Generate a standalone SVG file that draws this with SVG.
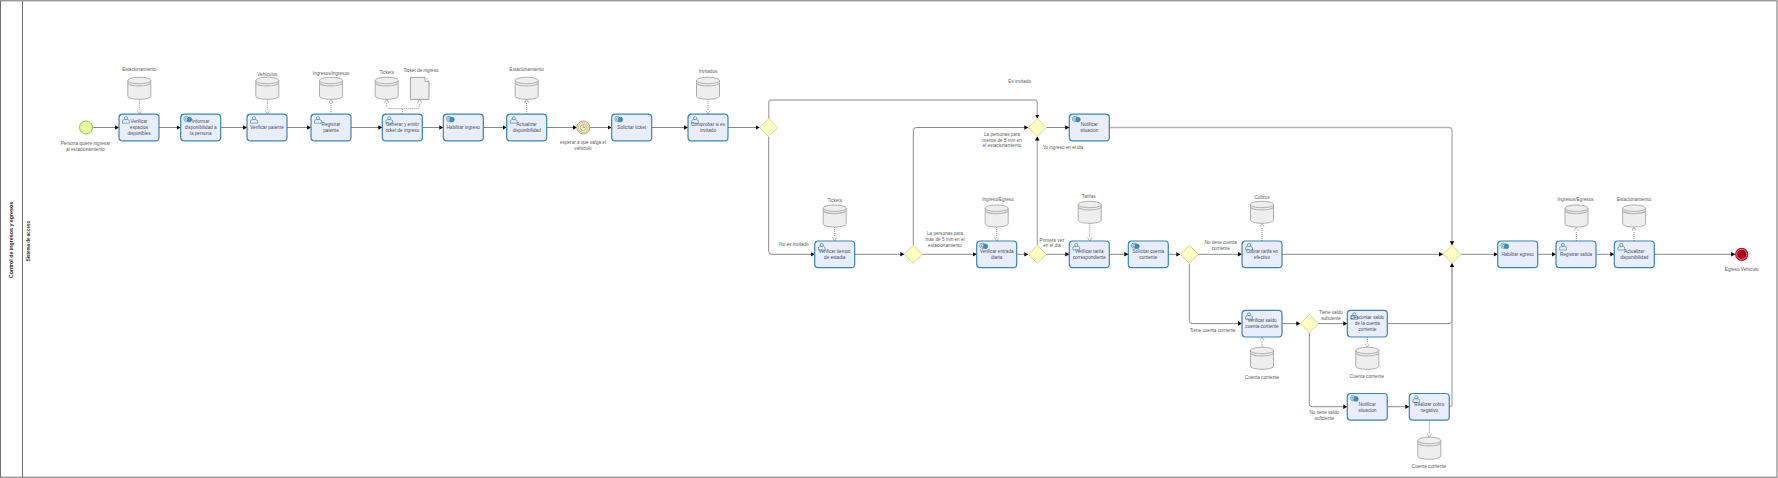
<svg xmlns="http://www.w3.org/2000/svg" width="1778" height="478" viewBox="0 0 1778 478">
<style>
text{font-family:"Liberation Sans",Arial,sans-serif;font-size:4.65px;fill:#5c5c5c;text-anchor:middle;stroke:none}
text.t{fill:#4c4c66}
.title{font-weight:bold;font-size:5.3px;fill:#222}
.sub{font-weight:bold;font-size:4.5px;fill:#333}
.box{fill:#e9eefc;stroke:#3686b6;stroke-width:1.2}
.seq{fill:none;stroke:#8a8a8a;stroke-width:1;marker-end:url(#ah)}
.seqh{fill:none;stroke:#b4b4b4;stroke-width:1.4;marker-end:url(#ah)}
.as{fill:none;stroke:#8a8a8a;stroke-width:1;stroke-dasharray:1 1;marker-end:url(#oh)}
.gw{fill:#ffffc4;stroke:#d0d08a;stroke-width:.9}
.db{fill:#eeeeee;stroke:#a6a6a6;stroke-width:.9}
.ic{fill:none;stroke:#2a7cb0;stroke-width:.6}
</style>
<defs>
<marker id="ah" markerUnits="userSpaceOnUse" markerWidth="5" markerHeight="5" refX="4" refY="2.25" orient="auto"><path d="M0,0L4,2.25L0,4.5z" fill="#000"/></marker>
<marker id="oh" markerUnits="userSpaceOnUse" markerWidth="6" markerHeight="5" refX="4.5" refY="2.25" orient="auto"><path d="M.8,0L4.5,2.25L.8,4.5" fill="#fff" stroke="#999" stroke-width=".7"/></marker>
<g id="user" class="ic"><circle cx="0" cy="-2" r="1.6" fill="#e9eefc"/><path d="M-3.4,3V1Q-3.4,-.4 -1.6,-.6H1.6Q3.4,-.4 3.4,1V3z" fill="#e9eefc"/></g>
<g id="svc" class="ic"><circle cx="-1.3" cy="-.3" r="2.6" fill="#e9eefc"/><circle cx="1.6" cy=".4" r="2.4" fill="#3a8cbc"/><circle cx="-1.3" cy="-.3" r="1.2" fill="#e9eefc"/></g>
<g id="dbs"><path class="db" d="M0,3.2V18.8C0,20.6 5,22 11.5,22S23,20.6 23,18.8V3.2C23,1.4 18,0 11.5,0S0,1.4 0,3.2z"/><path d="M0,3.2C0,5 5,6.4 11.5,6.4S23,5 23,3.2" fill="none" stroke="#a6a6a6" stroke-width=".9"/><path d="M0,5.4C0,7.2 5,8.6 11.5,8.6S23,7.2 23,5.4" fill="none" stroke="#b8b8b8" stroke-width="1.2"/></g>
<rect id="tb" class="box" width="40" height="26.7" rx="3.5"/>
<path id="gd" class="gw" d="M0,-9L9,0L0,9L-9,0z"/>
</defs>
<g id="pool">
<g fill="none" stroke="#6f6f6f" stroke-width="1"><rect x=".5" y=".8" width="1776.5" height="476.4"/><path d="M22.5,.8V477.2"/></g>
<text class="title" transform="translate(12.5,240) rotate(-90)">Control de ingresos y egresos</text>
<text class="sub" transform="translate(30,241) rotate(-90)">Sistema de acceso</text>
</g>
<g id="connectors">
<path class="seq" d="M92.5,127.5H119"/>
<path class="seq" d="M159,127.5H180.7"/>
<path class="seq" d="M220.7,127.5H247"/>
<path class="seq" d="M287,127.5H311"/>
<path class="seq" d="M351,127.5H382.3"/>
<path class="seq" d="M422.3,127.5H443.3"/>
<path class="seq" d="M483.3,127.5H506.7"/>
<path class="seq" d="M546.7,127.5H576.8"/>
<path class="seq" d="M589.8,127.5H611.7"/>
<path class="seq" d="M651.7,127.5H688"/>
<path class="seq" d="M728,127.5H759.7"/>
<path class="seqh" d="M768.7,118.5V103Q768.7,100 771.7,100H1034.3Q1037.3,100 1037.3,103V118.5"/>
<path class="seq" d="M768.7,136.5V251.3Q768.7,254.3 771.7,254.3H814.7"/>
<path class="seq" d="M854.7,254.3H904.3"/>
<path class="seq" d="M913.3,245.3V130.5Q913.3,127.5 916.3,127.5H1028.3"/>
<path class="seq" d="M922.3,254.3H976.7"/>
<path class="seq" d="M1016.7,254.3H1028.3"/>
<path class="seqh" d="M1037.3,245.3V136.5"/>
<path class="seq" d="M1046.3,127.5H1069.3"/>
<path class="seq" d="M1046.3,254.3H1069.3"/>
<path class="seq" d="M1109.3,254.3H1128.3"/>
<path class="seq" d="M1168.3,254.3H1180.3"/>
<path class="seq" d="M1198.3,254.3H1242"/>
<path class="seq" d="M1189.3,263.3V320.6Q1189.3,323.6 1192.3,323.6H1242"/>
<path class="seq" d="M1282,323.6H1300.3"/>
<path class="seq" d="M1318.3,323.6H1347.3"/>
<path class="seq" d="M1309.3,332.6V403.7Q1309.3,406.7 1312.3,406.7H1347.3"/>
<path class="seq" d="M1387.3,406.7H1409.3"/>
<path class="seqh" d="M1109.3,127.5H1449Q1452,127.5 1452,130.5V245.3"/>
<path class="seq" d="M1282,254.3H1443"/>
<path class="seq" d="M1387.3,323.6H1449Q1452,323.6 1452,320.6V263.3"/>
<path class="seqh" d="M1449.3,406.7H1450Q1452,406.7 1452,404V263.3"/>
<path class="seq" d="M1461,254.3H1497.7"/>
<path class="seq" d="M1537.7,254.3H1556"/>
<path class="seq" d="M1596,254.3H1614.3"/>
<path class="seq" d="M1654.3,254.3H1735.2"/>
<path class="as" d="M139.3,99.3V114"/>
<path class="as" d="M267.3,99.3V114"/>
<path class="as" d="M331,114V99.3"/>
<path class="as" d="M402.3,114V108.7H389.7Q386.7,108.7 386.7,105.7V99.3"/>
<path class="as" d="M402.3,108.7H416.7Q419.7,108.7 419.7,105.7V99.3"/>
<path class="as" d="M526.7,114V99.3"/>
<path class="as" d="M708,99.3V114"/>
<path class="as" d="M834.7,227V241"/>
<path class="as" d="M996.7,227V241"/>
<path class="as" d="M1089.7,223.3V241"/>
<path class="as" d="M1262,241V223.3"/>
<path class="as" d="M1576.3,241V227"/>
<path class="as" d="M1634,241V227"/>
<path class="as" d="M1262,347.3V337"/>
<path class="as" d="M1367.3,337V347.3"/>
<path class="as" d="M1429.3,420.3V437.3"/>
</g>
<g id="start"><circle cx="86" cy="127.5" r="6.5" fill="#e3ff9e" stroke="#9dbd48" stroke-width="1"/><text x="85.5" y="145">Persona quiere ingresar</text><text x="85.5" y="151">al estacionamiento</text></g>
<g id="timer"><circle cx="583.3" cy="127.5" r="6.5" fill="#f5f0c8" stroke="#b0a868" stroke-width="1"/><circle cx="583.3" cy="127.5" r="5" fill="none" stroke="#b0a868" stroke-width=".6"/><circle cx="583.3" cy="127.5" r="3" fill="#f5f0c8" stroke="#888" stroke-width=".6"/><path d="M583.3,125.5V127.5H585" fill="none" stroke="#777" stroke-width=".5"/><text x="583" y="144">esperar a que salga el</text><text x="583" y="150">vehículo</text></g>
<g id="end"><circle cx="1741.7" cy="254.3" r="6" fill="#c8102e" stroke="#b01030" stroke-width="1.2"/><circle cx="1741.7" cy="254.3" r="5" fill="#a8001c" stroke="#f0a0a8" stroke-width=".7"/><text x="1741.7" y="271">Egreso Vehículo</text></g>

<g id="t1" transform="translate(119,114.2)"><use href="#tb"/><use href="#user" x="7" y="6"/><text class="t" x="20" y="9">Verificar</text><text class="t" x="20" y="15">espacios</text><text class="t" x="20" y="21.2">disponibles</text></g>
<g id="t2" transform="translate(180.7,114.2)"><use href="#tb"/><use href="#svc" x="7" y="5"/><text class="t" x="20" y="9">Informar</text><text class="t" x="20" y="15">disponibilidad a</text><text class="t" x="20" y="21.2">la persona</text></g>
<g id="t3" transform="translate(247,114.2)"><use href="#tb"/><use href="#user" x="7" y="6"/><text class="t" x="20" y="15">Verificar patente</text></g>
<g id="t4" transform="translate(311,114.2)"><use href="#tb"/><use href="#user" x="7" y="6"/><text class="t" x="20" y="12">Registrar</text><text class="t" x="20" y="18.2">patente</text></g>
<g id="t5" transform="translate(382.3,114.2)"><use href="#tb"/><use href="#user" x="7" y="6"/><text class="t" x="20" y="12">Generar y emitir</text><text class="t" x="20" y="18.2">ticket de ingreso</text></g>
<g id="t6" transform="translate(443.3,114.2)"><use href="#tb"/><use href="#svc" x="7" y="5"/><text class="t" x="20" y="15">Habilitar ingreso</text></g>
<g id="t7" transform="translate(506.7,114.2)"><use href="#tb"/><use href="#user" x="7" y="6"/><text class="t" x="20" y="12">Actualizar</text><text class="t" x="20" y="18.2">disponibilidad</text></g>
<g id="t8" transform="translate(611.7,114.2)"><use href="#tb"/><use href="#svc" x="7" y="5"/><text class="t" x="20" y="15">Solicitar ticket</text></g>
<g id="t9" transform="translate(688,114.2)"><use href="#tb"/><use href="#user" x="7" y="6"/><text class="t" x="20" y="12">Comprobar si es</text><text class="t" x="20" y="18.2">invitado</text></g>
<g id="t10" transform="translate(1069.3,114.2)"><use href="#tb"/><use href="#svc" x="7" y="5"/><text class="t" x="20" y="12">Notificar</text><text class="t" x="20" y="18.2">situacion</text></g>
<g id="t11" transform="translate(814.7,241)"><use href="#tb"/><use href="#user" x="7" y="6"/><text class="t" x="20" y="12">Verificar tiempo</text><text class="t" x="20" y="18.2">de estadia</text></g>
<g id="t12" transform="translate(976.7,241)"><use href="#tb"/><use href="#svc" x="7" y="5"/><text class="t" x="20" y="12">Verificar entrada</text><text class="t" x="20" y="18.2">diaria</text></g>
<g id="t13" transform="translate(1069.3,241)"><use href="#tb"/><use href="#user" x="7" y="6"/><text class="t" x="20" y="12">Verificar tarifa</text><text class="t" x="20" y="18.2">correspondiente</text></g>
<g id="t14" transform="translate(1128.3,241)"><use href="#tb"/><use href="#svc" x="7" y="5"/><text class="t" x="20" y="12">Solicitar cuenta</text><text class="t" x="20" y="18.2">corriente</text></g>
<g id="t15" transform="translate(1242,241)"><use href="#tb"/><use href="#user" x="7" y="6"/><text class="t" x="20" y="12">Cobrar tarifa en</text><text class="t" x="20" y="18.2">efectivo</text></g>
<g id="t16" transform="translate(1242,310.3)"><use href="#tb"/><use href="#user" x="7" y="6"/><text class="t" x="20" y="12">Verificar saldo</text><text class="t" x="20" y="18.2">cuenta corriente</text></g>
<g id="t17" transform="translate(1347.3,310.3)"><use href="#tb"/><use href="#user" x="7" y="6"/><text class="t" x="20" y="9">Descontar saldo</text><text class="t" x="20" y="15">de la cuenta</text><text class="t" x="20" y="21.2">corriente</text></g>
<g id="t18" transform="translate(1347.3,393.5)"><use href="#tb"/><use href="#svc" x="7" y="5"/><text class="t" x="20" y="12">Notificar</text><text class="t" x="20" y="18.2">situacion</text></g>
<g id="t19" transform="translate(1409.3,393.5)"><use href="#tb"/><use href="#user" x="7" y="6"/><text class="t" x="20" y="12">Realizar cobro</text><text class="t" x="20" y="18.2">negativo</text></g>
<g id="t20" transform="translate(1497.7,241)"><use href="#tb"/><use href="#svc" x="7" y="5"/><text class="t" x="20" y="15">Habilitar egreso</text></g>
<g id="t21" transform="translate(1556,241)"><use href="#tb"/><use href="#user" x="7" y="6"/><text class="t" x="20" y="15">Registrar salida</text></g>
<g id="t22" transform="translate(1614.3,241)"><use href="#tb"/><use href="#user" x="7" y="6"/><text class="t" x="20" y="12">Actualizar</text><text class="t" x="20" y="18.2">disponibilidad</text></g>

<g id="g1"><use href="#gd" x="768.7" y="127.5"/></g>
<g id="g2"><use href="#gd" x="1037.3" y="127.5"/></g>
<g id="g3"><use href="#gd" x="913.3" y="254.3"/></g>
<g id="g4"><use href="#gd" x="1037.3" y="254.3"/></g>
<g id="g5"><use href="#gd" x="1189.3" y="254.3"/></g>
<g id="g6"><use href="#gd" x="1309.3" y="323.6"/></g>
<g id="g7"><use href="#gd" x="1452" y="254.3"/></g>

<g id="d1"><use href="#dbs" x="127.8" y="77.3"/><text x="139.3" y="71">Estacionamiento</text></g>
<g id="d2"><use href="#dbs" x="255.8" y="77.3"/><text x="267.3" y="76.2">Vehículos</text></g>
<g id="d3"><use href="#dbs" x="319.5" y="77.3"/><text x="331" y="75">Ingresos/ingresos</text></g>
<g id="d4"><use href="#dbs" x="375.2" y="77.3"/><text x="386.7" y="73.5">Tickets</text></g>
<g id="d5"><path d="M410.4,77.4H425L429,81.4V99.4H410.4z" fill="#eee" stroke="#8c8c8c" stroke-width=".8"/><path d="M425,77.4V81.4H429" fill="#fff" stroke="#8c8c8c" stroke-width=".7"/><text x="421" y="71.8">Ticket de ingreso</text></g>
<g id="d6"><use href="#dbs" x="515.2" y="77.3"/><text x="526.7" y="71">Estacionamiento</text></g>
<g id="d7"><use href="#dbs" x="696.5" y="77.3"/><text x="708" y="73">Invitados</text></g>
<g id="d8"><use href="#dbs" x="823.2" y="205"/><text x="834.7" y="201.5">Tickets</text></g>
<g id="d9"><use href="#dbs" x="985.2" y="205"/><text x="998" y="200.8">Ingreso/Egreso</text></g>
<g id="d10"><use href="#dbs" x="1078.2" y="201.3"/><text x="1088.7" y="197.8">Tarifas</text></g>
<g id="d11"><use href="#dbs" x="1250.5" y="201.3"/><text x="1262" y="198.7">Cobros</text></g>
<g id="d12"><use href="#dbs" x="1565" y="205"/><text x="1575.5" y="201">Ingresos/Egresos</text></g>
<g id="d13"><use href="#dbs" x="1622.6" y="205"/><text x="1634" y="201">Estacionamiento</text></g>
<g id="d14"><use href="#dbs" x="1250.5" y="347.3"/><text x="1262" y="379">Cuenta corriente</text></g>
<g id="d15"><use href="#dbs" x="1355.8" y="347.3"/><text x="1367" y="378">Cuenta corriente</text></g>
<g id="d16"><use href="#dbs" x="1417.8" y="437.3"/><text x="1429" y="468">Cuenta corriente</text></g>

<g id="labels">
<text x="1019.7" y="83">Es invitado</text>
<text x="794" y="246">No es invitado</text>
<text x="1002" y="136">La personas para</text><text x="1002" y="141.5">menos de 5 min en</text><text x="1002" y="147.2">el estacionamiento</text>
<text x="945" y="235">La personas para</text><text x="945" y="240.8">mas de 5 min en el</text><text x="945" y="246.6">estacionamiento</text>
<text x="1063" y="149">Yo ingreso en el dia</text>
<text x="1052" y="241.8">Primera vez</text><text x="1052" y="247.2">en el dia</text>
<text x="1220.7" y="244">No tiene cuenta</text><text x="1220.7" y="249.8">corriente</text>
<text x="1212.7" y="332">Tiene cuenta corriente</text>
<text x="1331" y="314">Tiene saldo</text><text x="1331" y="319.8">suficiente</text>
<text x="1324.3" y="414">No tiene saldo</text><text x="1324.3" y="419.8">suficiente</text>
</g>
</svg>
